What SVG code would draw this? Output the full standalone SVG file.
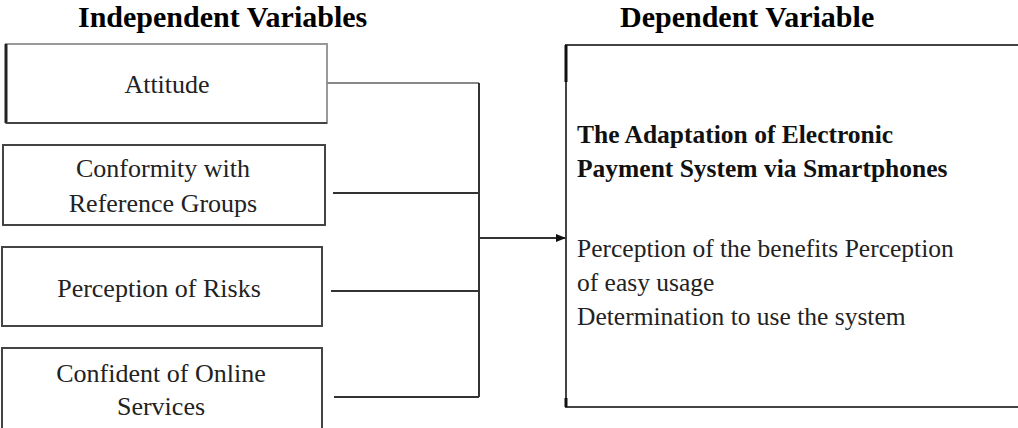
<svg xmlns="http://www.w3.org/2000/svg" width="1018" height="428" viewBox="0 0 1018 428">
<defs>
<style>
.title{font-family:"Liberation Serif","Times New Roman",serif;font-weight:bold;font-size:30px;fill:#000}
.lbl{font-family:"Liberation Serif","Times New Roman",serif;font-size:26px;fill:#222;text-anchor:middle}
.dv{font-family:"Liberation Serif","Times New Roman",serif;font-size:25.5px;fill:#222}
.dvb{font-family:"Liberation Serif","Times New Roman",serif;font-size:25.5px;font-weight:bold;fill:#111}
.box{fill:#fff;stroke:#444;stroke-width:2}
.conn{fill:none;stroke:#333;stroke-width:2}
</style>
<marker id="arr" viewBox="0 0 10 10" refX="9" refY="5" markerWidth="5" markerHeight="5" orient="auto" markerUnits="strokeWidth">
<path d="M0,1 L10,5 L0,9 Z" fill="#111"/>
</marker>
</defs>
<rect width="1018" height="428" fill="#fff"/>
<text class="title" x="78" y="27">Independent Variables</text>
<text class="title" x="620" y="27">Dependent Variable</text>
<g id="node-attitude">
<rect class="box" x="6" y="44" width="321" height="79" style="stroke:#999"/>
<line x1="6" y1="44" x2="6" y2="123" stroke="#222" stroke-width="3"/>
<line x1="6" y1="123" x2="327" y2="123" stroke="#444" stroke-width="2"/>
<text class="lbl" x="167" y="93">Attitude</text>
</g>
<g id="node-conformity">
<rect class="box" x="3" y="145" width="322" height="80"/>
<text class="lbl" x="163" y="177">Conformity with</text>
<text class="lbl" x="163" y="212">Reference Groups</text>
</g>
<g id="node-risks">
<rect class="box" x="2" y="247" width="320" height="79"/>
<text class="lbl" x="159" y="297">Perception of Risks</text>
</g>
<g id="node-confident">
<rect class="box" x="2" y="348" width="320" height="90"/>
<text class="lbl" x="161" y="382">Confident of Online</text>
<text class="lbl" x="161" y="415">Services</text>
</g>
<g id="node-dependent">
<rect class="box" x="566" y="45" width="470" height="362"/>
<line x1="566" y1="45" x2="566" y2="82" stroke="#111" stroke-width="3"/>
<line x1="566" y1="398" x2="566" y2="407" stroke="#111" stroke-width="3"/>
<text class="dvb" x="577" y="143">The Adaptation of Electronic</text>
<text class="dvb" x="577" y="177">Payment System via Smartphones</text>
<text class="dv" x="577" y="257">Perception of the benefits Perception</text>
<text class="dv" x="577" y="291">of easy usage</text>
<text class="dv" x="577" y="325">Determination to use the system</text>
</g>
<g id="connectors">
<line class="conn" x1="327" y1="83" x2="479" y2="83" style="stroke:#888"/>
<line class="conn" x1="333" y1="193" x2="479" y2="193"/>
<line class="conn" x1="331" y1="291" x2="479" y2="291"/>
<line class="conn" x1="334" y1="397" x2="479" y2="397"/>
<line class="conn" x1="479" y1="83" x2="479" y2="397"/>
<line class="conn" x1="479" y1="238" x2="565" y2="238" marker-end="url(#arr)"/>
</g>
</svg>
